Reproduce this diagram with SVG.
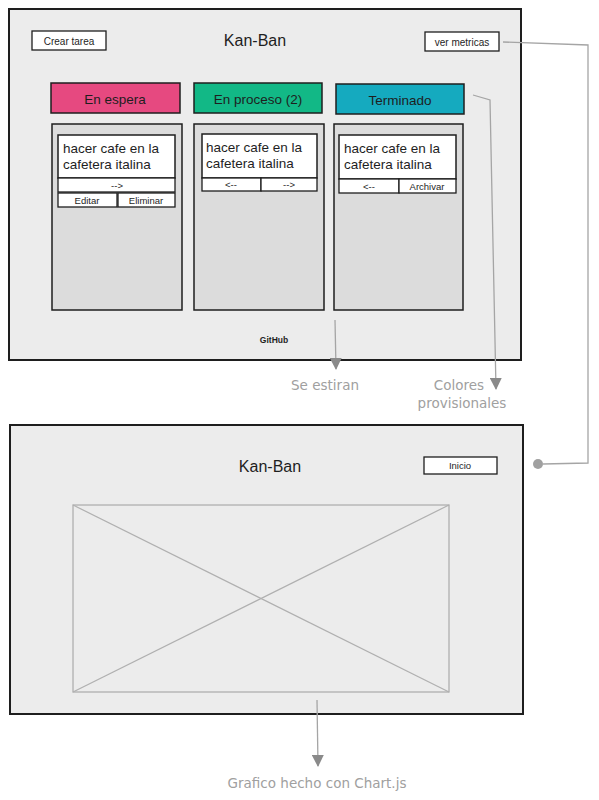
<svg xmlns="http://www.w3.org/2000/svg" width="599" height="800" viewBox="0 0 599 800">
<style>
.frame{fill:#ececec;stroke:#1e1e1e;stroke-width:2}
.col{fill:#dcdcdc;stroke:#1e1e1e;stroke-width:1.5}
.card{fill:#ffffff;stroke:#1e1e1e;stroke-width:1.5}
.btn{fill:#ffffff;stroke:#1e1e1e;stroke-width:1.3}
.hdr{stroke:#1e1e1e;stroke-width:1.5}
.t{font-family:"Liberation Sans",Arial,sans-serif;fill:#1e1e1e;text-anchor:middle}
.ct{font-family:"Liberation Sans",Arial,sans-serif;fill:#1e1e1e;font-size:13.5px}
.note{font-family:"DejaVu Sans","Liberation Sans",sans-serif;fill:#a0a0a0;font-size:13.5px;text-anchor:middle}
.conn{fill:none;stroke:#a5a5a5;stroke-width:1.3}
.xl{stroke:#b0b0b0;stroke-width:1.2}
</style>
<defs>
<marker id="ah" viewBox="0 0 12 12" refX="11" refY="6" markerWidth="12" markerHeight="12" markerUnits="userSpaceOnUse" orient="auto">
<path d="M0,0 L12,6 L0,12 Z" fill="#8a8a8a"/>
</marker>
</defs>

<g id="screen-kanban">
<rect class="frame" x="9" y="9" width="512" height="351"/>
</g>
<g id="btn-crear">
<rect class="btn" x="32" y="31" width="74" height="19"/>
<text class="t" x="69" y="45" font-size="10">Crear tarea</text>
</g>
<g id="title1">
<text class="t" x="255" y="46" font-size="16">Kan-Ban</text>
</g>
<g id="btn-metricas">
<rect class="btn" x="425" y="32" width="74" height="19"/>
<text class="t" x="462" y="46" font-size="10">ver metricas</text>
</g>

<g id="hdr-espera">
<rect class="hdr" x="51" y="83" width="129" height="30" fill="#e64980"/>
<text class="t" x="115" y="104" font-size="13.5">En espera</text>
</g>
<g id="hdr-proceso">
<rect class="hdr" x="194" y="83" width="128" height="30" fill="#12b886"/>
<text class="t" x="258" y="104" font-size="13.5">En proceso (2)</text>
</g>
<g id="hdr-terminado">
<rect class="hdr" x="336" y="84" width="128" height="30" fill="#15aabf"/>
<text class="t" x="400" y="105" font-size="13.5">Terminado</text>
</g>

<g id="col-espera">
<rect class="col" x="52" y="124" width="130" height="186"/>
<rect class="card" x="58" y="135" width="117" height="43"/>
<text class="ct" x="63" y="153">hacer cafe en la</text>
<text class="ct" x="63" y="169">cafetera italina</text>
<rect class="btn" x="58" y="178" width="117" height="14"/>
<text class="t" x="117" y="189" font-size="9.5">--&gt;</text>
<rect class="btn" x="58" y="193" width="59" height="14"/>
<text class="t" x="87" y="204" font-size="9.5">Editar</text>
<rect class="btn" x="118" y="193" width="57" height="14"/>
<text class="t" x="146" y="204" font-size="9.5">Eliminar</text>
</g>

<g id="col-proceso">
<rect class="col" x="194" y="124" width="130" height="186"/>
<rect class="card" x="202" y="134" width="115" height="44"/>
<text class="ct" x="206" y="152">hacer cafe en la</text>
<text class="ct" x="206" y="168">cafetera italina</text>
<rect class="btn" x="202" y="178" width="59" height="13"/>
<text class="t" x="231" y="188" font-size="9.5">&lt;--</text>
<rect class="btn" x="261" y="178" width="56" height="13"/>
<text class="t" x="289" y="188" font-size="9.5">--&gt;</text>
</g>

<g id="col-terminado">
<rect class="col" x="334" y="124" width="129" height="186"/>
<rect class="card" x="339" y="135" width="117" height="44"/>
<text class="ct" x="344" y="153">hacer cafe en la</text>
<text class="ct" x="344" y="169">cafetera italina</text>
<rect class="btn" x="339" y="179" width="60" height="14"/>
<text class="t" x="369" y="190" font-size="9.5">&lt;--</text>
<rect class="btn" x="399" y="179" width="57" height="14"/>
<text class="t" x="427" y="190" font-size="9.5">Archivar</text>
</g>

<g id="github">
<text class="t" x="274" y="343" font-size="8.5" font-weight="bold">GitHub</text>
</g>

<g id="screen-metricas">
<rect class="frame" x="10" y="425" width="513" height="289"/>
</g>
<g id="title2">
<text class="t" x="270" y="472" font-size="16">Kan-Ban</text>
</g>
<g id="btn-inicio">
<rect class="btn" x="424" y="457" width="73" height="17"/>
<text class="t" x="460" y="469" font-size="9.5">Inicio</text>
</g>
<g id="chart-placeholder">
<rect x="73" y="505" width="376" height="187" fill="none" stroke="#b0b0b0" stroke-width="1.3"/>
<line class="xl" x1="73" y1="505" x2="449" y2="692"/>
<line class="xl" x1="449" y1="505" x2="73" y2="692"/>
</g>

<g id="notes">
<text class="note" x="325" y="390">Se estiran</text>
<text class="note" x="459" y="390">Colores</text>
<text class="note" x="462" y="408">provisionales</text>
<text class="note" x="317" y="788">Grafico hecho con Chart.js</text>
</g>

<g id="connectors">
<path class="conn" d="M335,320 L336,369" marker-end="url(#ah)"/>
<path class="conn" d="M473,95 L490,100 L496,389" marker-end="url(#ah)"/>
<path class="conn" d="M503,42 L588,45 L588,463 L543,464"/>
<circle cx="538" cy="464" r="5" fill="#a0a0a0"/>
<path class="conn" d="M317,700 L318,766" marker-end="url(#ah)"/>
</g>
</svg>
